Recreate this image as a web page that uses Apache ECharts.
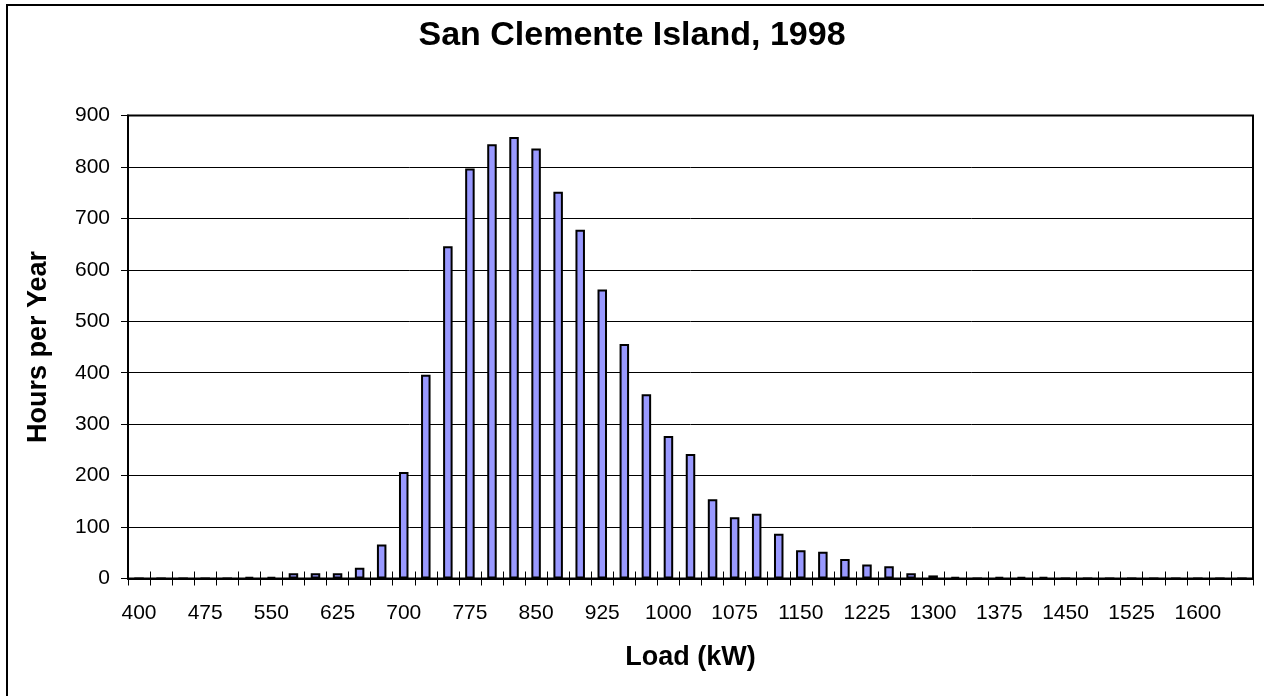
<!DOCTYPE html>
<html>
<head>
<meta charset="utf-8">
<title>San Clemente Island, 1998</title>
<script src="https://cdn.jsdelivr.net/npm/echarts@6/dist/echarts.min.js"></script>
<style>
  html, body { margin: 0; padding: 0; background: #fff; }
  #chart { width: 1264px; height: 696px; }
</style>
</head>
<body>
<div id="chart"></div>
<script>
// Load bins (kW), 25 kW wide
const loadBins = [
  400, 425, 450, 475, 500, 525, 550, 575, 600, 625,
  650, 675, 700, 725, 750, 775, 800, 825, 850, 875,
  900, 925, 950, 975, 1000, 1025, 1050, 1075, 1100, 1125,
  1150, 1175, 1200, 1225, 1250, 1275, 1300, 1325, 1350, 1375,
  1400, 1425, 1450, 1475, 1500, 1525, 1550, 1575, 1600, 1625,
  1650
];

// Hours per year spent in each load bin
const hoursPerYear = [
  0, 0, 0, 0, 0, 3, 3, 10, 10, 10,
  21, 66, 207, 396, 646, 797, 844, 858, 836, 752,
  678, 562, 456, 358, 277, 242, 154, 119, 126, 87,
  55, 52, 38, 27, 24, 10, 6, 3, 0, 3,
  3, 3, 0, 0, 0, 0, 0, 0, 0, 0,
  0
];

const titleText = 'San Clemente Island, 1998';
const xTitle = 'Load (kW)';
const yTitle = 'Hours per Year';

const FONT = '"Liberation Sans", Arial, Helvetica, sans-serif';

const chart = echarts.init(document.getElementById('chart'), null, { renderer: 'canvas' });

chart.setOption({
  animation: false,
  backgroundColor: '#fff',
  textStyle: { fontFamily: FONT, color: '#000' },
  graphic: [{
    // outer chart frame
    type: 'rect',
    silent: true,
    shape: { x: 7, y: 5, width: 1270, height: 710 },
    style: { fill: 'none', stroke: '#000', lineWidth: 2 }
  }],
  title: {
    text: titleText,
    left: 'center',
    top: 14,
    textStyle: { fontFamily: FONT, fontSize: 34, fontWeight: 'bold', color: '#000' }
  },
  grid: {
    left: 128,
    right: 11,
    top: 115.5,
    bottom: 117.5,
    show: true,
    borderColor: '#000',
    borderWidth: 2,
    backgroundColor: '#fff'
  },
  xAxis: [{
    type: 'category',
    position: 'bottom',
    data: loadBins,
    boundaryGap: true,
    name: xTitle,
    nameLocation: 'middle',
    nameGap: 66,
    nameTextStyle: { fontFamily: FONT, fontSize: 27, fontWeight: 'bold', color: '#000' },
    axisLine: { show: true, lineStyle: { color: '#000', width: 2 } },
    axisTick: { show: true, inside: false, length: 7, interval: 0, alignWithLabel: false, lineStyle: { color: '#000', width: 1 } },
    axisLabel: { interval: 2, margin: 24, fontFamily: FONT, fontSize: 21, color: '#000' },
    splitLine: { show: false }
  }, {
    // inner half of the crossing tick marks
    type: 'category',
    position: 'bottom',
    data: loadBins,
    boundaryGap: true,
    axisLine: { show: false },
    axisTick: { show: true, inside: true, length: 7, interval: 0, lineStyle: { color: '#000', width: 1 } },
    axisLabel: { show: false },
    splitLine: { show: false }
  }],
  yAxis: {
    type: 'value',
    min: 0,
    max: 900,
    interval: 100,
    name: yTitle,
    nameLocation: 'middle',
    nameRotate: 90,
    nameGap: 76,
    nameTextStyle: { fontFamily: FONT, fontSize: 27, fontWeight: 'bold', color: '#000' },
    axisLine: { show: true, lineStyle: { color: '#000', width: 2 } },
    axisTick: { show: true, inside: false, length: 7, lineStyle: { color: '#000', width: 1 } },
    axisLabel: { margin: 18, fontFamily: FONT, fontSize: 21, color: '#000' },
    splitLine: { show: true, lineStyle: { color: '#000', width: 1 } }
  },
  series: [{
    type: 'bar',
    xAxisIndex: 0,
    data: hoursPerYear,
    barWidth: 9.5,
    itemStyle: { color: '#9999FF', borderColor: '#000', borderWidth: 2 },
    emphasis: { disabled: true }
  }]
});
</script>
</body>
</html>
